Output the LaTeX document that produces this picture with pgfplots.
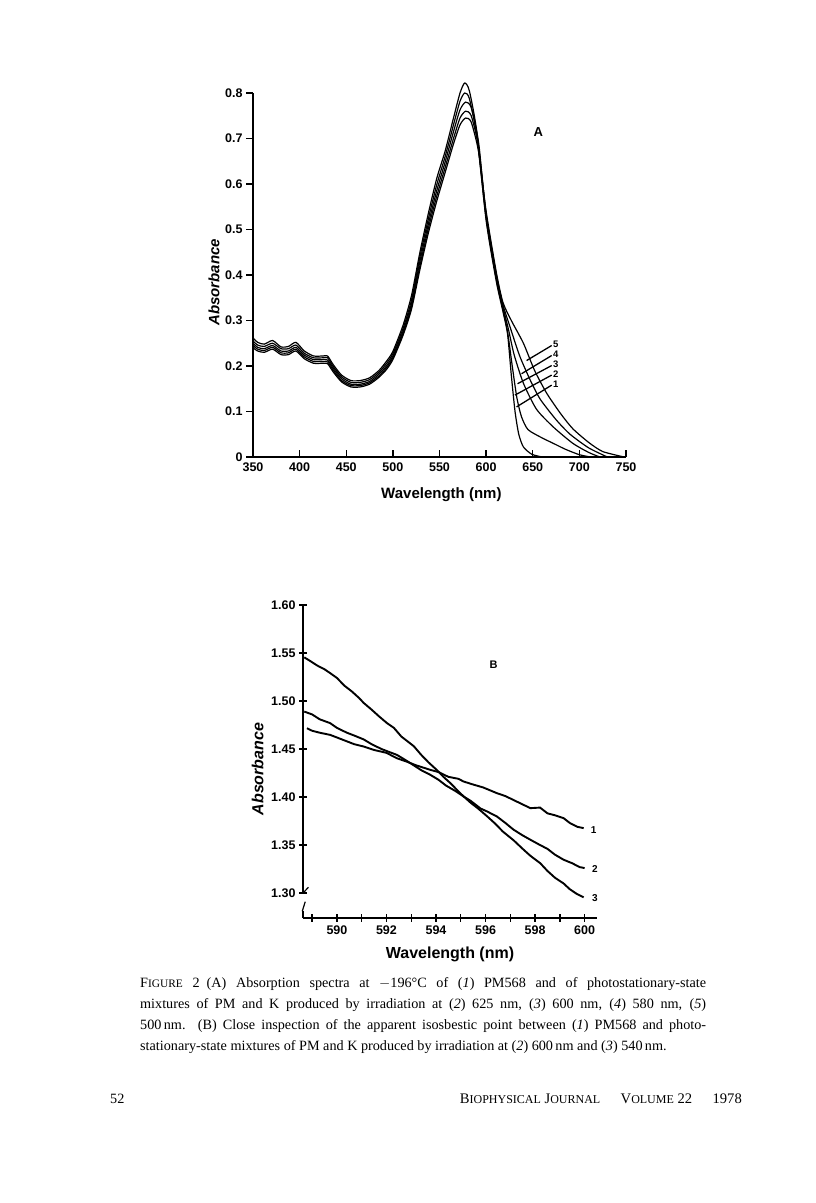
\documentclass[border=0pt]{standalone}
\usepackage{fontspec}
\setmainfont{Liberation Serif}
\newfontfamily\lab{Liberation Sans}
\usepackage{pgfplots}
\pgfplotsset{compat=1.18}
\begin{document}
\begin{tikzpicture}[x=1pt,y=1pt]
\path[use as bounding box,fill=white] (0,0) rectangle (816,1203);
% ---------------- Panel A ----------------
\begin{axis}[at={(253pt,746pt)}, anchor=south west, scale only axis,
  width=373pt, height=364pt, xmin=350, xmax=750, ymin=0, ymax=0.8,
  axis lines=left, axis line style={-, line width=1.7pt},
  xtick={350,400,450,500,550,600,650,700,750},
  xticklabels={350,400,450,500,550,600,650,700,750},
  ytick={0,0.1,0.2,0.3,0.4,0.5,0.6,0.7,0.8},
  yticklabels={0,0.1,0.2,0.3,0.4,0.5,0.6,0.7,0.8},
  xtick align=inside, ytick align=outside, major tick length=7pt,
  tick style={line width=1.4pt, black},
  ticklabel style={font=\lab\bfseries\fontsize{12.5}{12.5}\selectfont},
  xticklabel style={yshift=-2pt},
  xlabel={Wavelength (nm)}, ylabel={\itshape Absorbance},
  label style={font=\lab\bfseries\fontsize{15}{15}\selectfont},
  xlabel style={at={(axis description cs:0.505,0)}, anchor=north, yshift=-27pt},
  ylabel style={at={(axis description cs:0,0.48)}, anchor=south, yshift=30pt},
  clip=false]
\addplot[black, line width=1.2pt, smooth, tension=0.4] coordinates {
(350,0.262)(355,0.252)(362,0.248)(371,0.256)(380,0.242)(388,0.243)(396,0.252)(405,0.233)(415,0.222)(425,0.222)(430,0.222)(436,0.203)(445,0.180)(455,0.168)(465,0.168)(475,0.174)(485,0.190)(493,0.210)(500,0.232)(511,0.290)(520,0.355)(529,0.450)(538,0.535)(547,0.612)(556,0.672)(565,0.745)(572,0.800)(577,0.822)(582,0.805)(590,0.715)(600,0.520)(611,0.385)(618,0.320)(623,0.270)(627,0.180)(631,0.100)(635,0.050)(640,0.022)(649,0.006)(660,0.000)};
\addplot[black, line width=1.2pt, smooth, tension=0.4] coordinates {
(350,0.255)(355,0.246)(362,0.243)(371,0.250)(380,0.238)(388,0.238)(396,0.246)(405,0.228)(415,0.218)(425,0.218)(430,0.218)(436,0.199)(445,0.176)(455,0.164)(465,0.164)(475,0.170)(485,0.186)(493,0.205)(500,0.227)(511,0.283)(520,0.345)(529,0.440)(538,0.523)(547,0.598)(556,0.660)(565,0.730)(572,0.782)(577,0.800)(582,0.788)(590,0.705)(600,0.525)(611,0.390)(618,0.325)(623,0.275)(628,0.200)(633,0.130)(638,0.088)(645,0.060)(660,0.042)(672,0.030)(685,0.017)(700,0.005)(712,0.000)};
\addplot[black, line width=1.2pt, smooth, tension=0.4] coordinates {
(350,0.250)(355,0.241)(362,0.238)(371,0.245)(380,0.233)(388,0.233)(396,0.241)(405,0.224)(415,0.214)(425,0.214)(430,0.213)(436,0.195)(445,0.172)(455,0.160)(465,0.160)(475,0.166)(485,0.182)(493,0.200)(500,0.222)(511,0.277)(520,0.337)(529,0.430)(538,0.512)(547,0.585)(556,0.648)(565,0.715)(572,0.763)(578,0.780)(584,0.768)(592,0.690)(600,0.530)(611,0.395)(618,0.330)(624,0.280)(630,0.225)(640,0.162)(654,0.105)(672,0.066)(693,0.030)(710,0.010)(722,0.000)};
\addplot[black, line width=1.2pt, smooth, tension=0.4] coordinates {
(350,0.245)(355,0.237)(362,0.234)(371,0.241)(380,0.229)(388,0.229)(396,0.237)(405,0.220)(415,0.210)(425,0.210)(430,0.209)(436,0.191)(445,0.168)(455,0.157)(465,0.157)(475,0.163)(485,0.178)(493,0.196)(500,0.218)(511,0.272)(520,0.330)(529,0.420)(538,0.502)(547,0.573)(556,0.636)(565,0.700)(572,0.745)(578,0.760)(584,0.750)(592,0.680)(600,0.535)(611,0.400)(618,0.335)(625,0.290)(636,0.222)(648,0.166)(658,0.127)(675,0.082)(690,0.050)(710,0.020)(730,0.000)};
\addplot[black, line width=1.2pt, smooth, tension=0.4] coordinates {
(350,0.240)(355,0.233)(362,0.230)(371,0.237)(380,0.225)(388,0.225)(396,0.233)(405,0.216)(415,0.206)(425,0.206)(430,0.205)(436,0.187)(445,0.165)(455,0.154)(465,0.154)(475,0.160)(485,0.175)(493,0.192)(500,0.214)(511,0.268)(520,0.325)(529,0.412)(538,0.492)(547,0.562)(556,0.625)(565,0.688)(572,0.730)(578,0.745)(584,0.736)(592,0.670)(600,0.540)(611,0.405)(618,0.340)(627,0.300)(640,0.250)(652,0.190)(665,0.140)(680,0.095)(693,0.062)(710,0.032)(725,0.012)(748,0.000)};
% leader lines and labels
\draw[line width=1.3pt] (axis cs:670.3,0.245) -- (axis cs:643.4,0.212);
\draw[line width=1.3pt] (axis cs:670.3,0.223) -- (axis cs:638,0.183);
\draw[line width=1.3pt] (axis cs:670.3,0.201) -- (axis cs:633.7,0.161);
\draw[line width=1.3pt] (axis cs:670.3,0.180) -- (axis cs:630.9,0.136);
\draw[line width=1.3pt] (axis cs:670.3,0.158) -- (axis cs:632.6,0.110);
\begin{scope}[every node/.style={font=\lab\bfseries\fontsize{9.5}{9.5}\selectfont, anchor=west, inner sep=1pt}]
\node at (axis cs:670.5,0.247) {5};
\node at (axis cs:670.5,0.225) {4};
\node at (axis cs:670.5,0.203) {3};
\node at (axis cs:670.5,0.182) {2};
\node at (axis cs:670.5,0.160) {1};
\end{scope}
\node[font=\lab\bfseries\fontsize{13}{13}\selectfont] at (axis cs:656,0.714) {A};
\end{axis}
% ---------------- Panel B ----------------
\begin{axis}[at={(303pt,285pt)}, anchor=south west, scale only axis,
  width=294pt, height=313pt, xmin=588.63, xmax=600.5, ymin=1.274, ymax=1.60,
  axis lines=left, axis line style={-, line width=1.7pt}, y axis line style={draw=none},
  xtick={589,590,591,592,593,594,595,596,597,598,599,600},
  xticklabels={,590,,592,,594,,596,,598,,600},
  ytick={1.30,1.35,1.40,1.45,1.50,1.55,1.60},
  yticklabels={1.30,1.35,1.40,1.45,1.50,1.55,1.60},
  tick align=center, major tick length=8pt,
  tick style={line width=1.4pt, black},
  ticklabel style={font=\lab\bfseries\fontsize{12.5}{12.5}\selectfont},
  xlabel={Wavelength (nm)}, ylabel={\itshape Absorbance},
  label style={font=\lab\bfseries\fontsize{16}{16}\selectfont},
  xlabel style={at={(axis description cs:0.5,0)}, anchor=north, yshift=-25pt},
  ylabel style={at={(axis description cs:0,0.476)}, anchor=south, yshift=36pt},
  clip=false]
% y axis line with break
\draw[line width=1.7pt] (axis cs:588.63,1.60) -- (axis cs:588.63,1.30);
\draw[line width=1.2pt] (axis cs:588.63,1.30) -- (axis cs:588.85,1.306);
\draw[line width=1.7pt] (axis cs:588.63,1.274) -- (axis cs:588.63,1.281);
\draw[line width=1.2pt] (axis cs:588.60,1.281) -- (axis cs:588.72,1.291);
\addplot[black, line width=1.9pt] coordinates {
(588.68,1.5455)(588.9,1.542)(589.2,1.537)(589.5,1.533)(589.73,1.529)(590.0,1.524)(590.3,1.516)(590.6,1.510)(590.9,1.503)(591.08,1.498)(591.4,1.491)(591.7,1.484)(592.02,1.477)(592.3,1.472)(592.6,1.463)(592.9,1.457)(593.1,1.453)(593.4,1.444)(593.7,1.436)(594.04,1.428)(594.3,1.421)(594.6,1.414)(594.9,1.406)(595.1,1.401)(595.4,1.394)(595.7,1.388)(596.06,1.380)(596.4,1.372)(596.7,1.364)(597.13,1.355)(597.5,1.346)(597.8,1.339)(598.21,1.331)(598.5,1.323)(598.8,1.316)(599.15,1.310)(599.4,1.304)(599.69,1.299)(599.96,1.2955)};
\addplot[black, line width=1.9pt] coordinates {
(588.68,1.489)(589.0,1.486)(589.3,1.481)(589.73,1.4769)(590.0,1.472)(590.4,1.467)(590.7,1.464)(591.08,1.460)(591.4,1.455)(591.8,1.450)(592.1,1.447)(592.42,1.4439)(592.8,1.438)(593.1,1.433)(593.4,1.428)(593.77,1.4231)(594.1,1.418)(594.4,1.412)(594.8,1.406)(595.11,1.4006)(595.4,1.396)(595.8,1.388)(596.06,1.385)(596.46,1.3797)(596.8,1.373)(597.13,1.366)(597.5,1.360)(597.81,1.3555)(598.2,1.350)(598.5,1.346)(598.8,1.340)(599.15,1.3347)(599.5,1.331)(599.8,1.327)(600.0,1.326)};
\addplot[black, line width=1.9pt] coordinates {
(588.79,1.4717)(589.0,1.469)(589.3,1.467)(589.73,1.4647)(590.0,1.462)(590.4,1.458)(590.7,1.455)(591.08,1.4526)(591.5,1.449)(592.0,1.446)(592.42,1.4404)(592.8,1.437)(593.2,1.433)(593.77,1.4283)(594.1,1.426)(594.5,1.421)(594.9,1.419)(595.11,1.4162)(595.5,1.413)(595.9,1.410)(596.46,1.404)(596.8,1.401)(597.2,1.396)(597.81,1.3884)(598.2,1.389)(598.5,1.383)(598.8,1.381)(599.15,1.378)(599.4,1.373)(599.7,1.369)(599.96,1.3676)};
\begin{scope}[every node/.style={font=\lab\bfseries\fontsize{10}{10}\selectfont, anchor=west, inner sep=1pt}]
\node at (axis cs:600.2,1.366) {1};
\node at (axis cs:600.25,1.325) {2};
\node at (axis cs:600.25,1.295) {3};
\end{scope}
\node[font=\lab\bfseries\fontsize{11}{11}\selectfont] at (axis cs:596.33,1.5376) {B};
\end{axis}
% ---------------- Caption and footer ----------------
\node[anchor=north west, inner sep=0pt, text width=566pt, align=justify,
  font=\fontsize{14.2}{21.2}\selectfont] at (140,226) {%
F{\fontsize{11.4}{10}\selectfont IGURE} 2\enspace (A) Absorption spectra at $-$196\textdegree C of (\textit{1}) PM568 and of photostationary-state\linebreak
mixtures of PM and K produced by irradiation at (\textit{2}) 625 nm, (\textit{3}) 600 nm, (\textit{4}) 580 nm, (\textit{5})\linebreak
500\,nm. (B) Close inspection of the apparent isosbestic point between (\textit{1}) PM568 and photo-\linebreak
stationary-state mixtures of PM and K produced by irradiation at (\textit{2}) 600\,nm and (\textit{3}) 540\,nm.};
\node[anchor=base west, inner sep=0pt, font=\fontsize{14.2}{14}\selectfont] at (110,99) {52};
\node[anchor=base east, inner sep=0pt, font=\fontsize{14.6}{14}\selectfont] at (742,99)
 {B{\fontsize{12}{10}\selectfont IOPHYSICAL} J{\fontsize{12}{10}\selectfont OURNAL}\hspace{1.4em}V{\fontsize{12}{10}\selectfont OLUME} 22\hspace{1.4em}1978};
\end{tikzpicture}
\end{document}
